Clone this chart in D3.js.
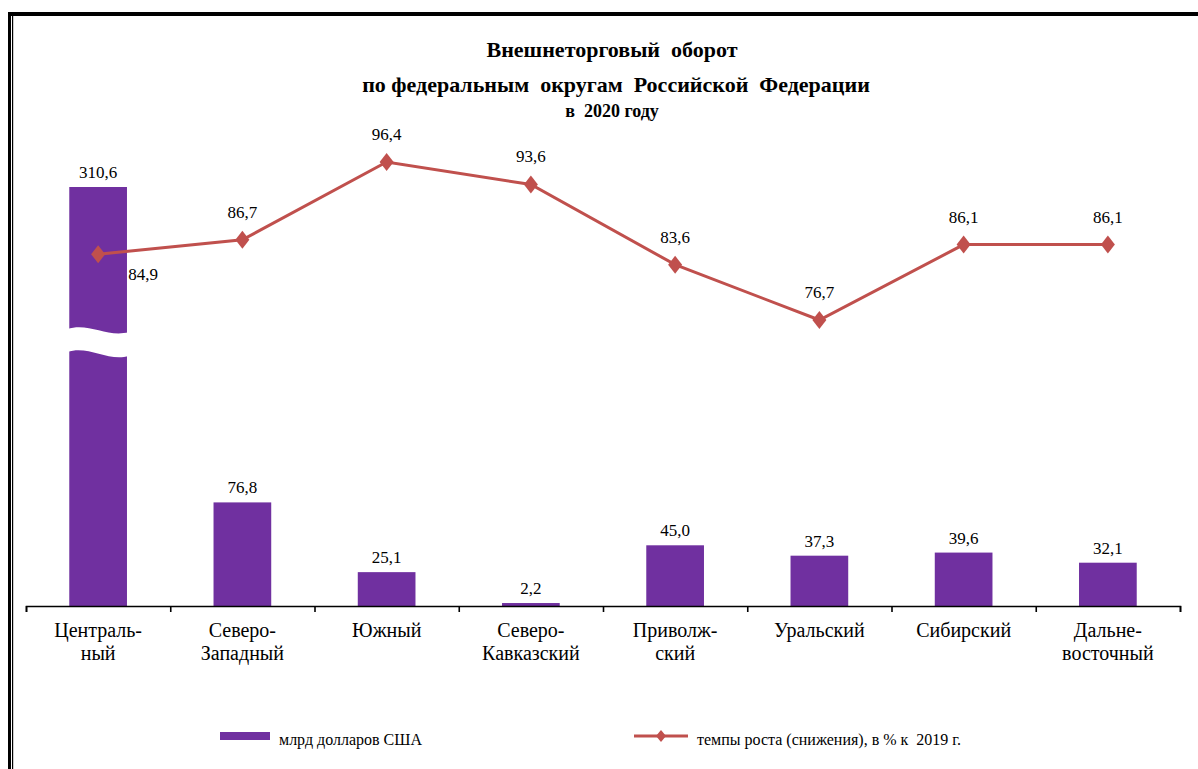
<!DOCTYPE html>
<html>
<head>
<meta charset="utf-8">
<script src="https://cdn.jsdelivr.net/npm/d3@7"></script>
</head>
<body style="margin:0">
<svg id="chart" width="1198" height="769"></svg>
<script>
var categories = [["Централь-", "ный"], ["Северо-", "Западный"], ["Южный"], ["Северо-", "Кавказский"],
                  ["Приволж-", "ский"], ["Уральский"], ["Сибирский"], ["Дальне-", "восточный"]];
var turnover = [310.6, 76.8, 25.1, 2.2, 45.0, 37.3, 39.6, 32.1];
var growth = [84.9, 86.7, 96.4, 93.6, 83.6, 76.7, 86.1, 86.1];
var titleLines = ["Внешнеторговый  оборот", "по федеральным  округам  Российской  Федерации", "в  2020 году"];
var legendBar = "млрд долларов США";
var legendLine = "темпы роста (снижения), в % к  2019 г.";

var w = 1198, h = 769;
var barColor = "#7030A0", lineColor = "#C0504D";
var axisY = 606;
var fmt = function(v){ return v.toFixed(1).replace(".", ","); };

var svg = d3.select("#chart");

// frame
svg.append("rect").attr("x", 8).attr("y", 12).attr("width", 3).attr("height", h).attr("fill", "#000");
svg.append("rect").attr("x", 12).attr("y", 14).attr("width", 1.2).attr("height", h).attr("fill", "#000");
svg.append("rect").attr("x", 8).attr("y", 12).attr("width", w).attr("height", 4).attr("fill", "#000");

var idx = d3.range(categories.length);
var xScale = d3.scaleBand()
  .domain(idx)
  .range([26, 1180])
  .paddingInner(0.6)
  .paddingOuter(0.3);

var yScale = d3.scaleLinear().domain([0, 310.6]).range([axisY, 187]);
var y2Scale = d3.scaleLinear().domain([76.7, 96.4]).range([320, 162]);

function addText(sel){
  return sel.append("text")
    .attr("xml:space", "preserve")
    .attr("fill", "#000");
}

// title
addText(svg).attr("x", 612).attr("y", 57).attr("text-anchor", "middle")
  .attr("font-size", "22px").attr("font-weight", "bold").text(titleLines[0]);
addText(svg).attr("x", 616).attr("y", 92).attr("text-anchor", "middle")
  .attr("font-size", "22px").attr("font-weight", "bold").text(titleLines[1]);
addText(svg).attr("x", 612).attr("y", 117).attr("text-anchor", "middle")
  .attr("font-size", "18px").attr("font-weight", "bold").text(titleLines[2]);

// bars
svg.selectAll("rect.bar")
  .data(turnover)
  .enter()
  .append("rect")
  .attr("class", "bar")
  .attr("x", function(d, i){ return xScale(i); })
  .attr("width", xScale.bandwidth())
  .attr("y", function(d){ return yScale(d); })
  .attr("height", function(d){ return axisY - yScale(d); })
  .attr("fill", barColor);

// break on the first bar
var bx = xScale(0) - 2, bw = xScale.bandwidth() + 4;
svg.append("path")
  .attr("d", "M" + bx + "," + 329 +
    " C" + (bx + bw * 0.35) + "," + 322 + " " + (bx + bw * 0.65) + "," + 338 + " " + (bx + bw) + "," + 332 +
    " L" + (bx + bw) + "," + 356 +
    " C" + (bx + bw * 0.65) + "," + 362 + " " + (bx + bw * 0.35) + "," + 345 + " " + bx + "," + 352 + " Z")
  .attr("fill", "#fff");

// bar labels
turnover.forEach(function(d, i){
  addText(svg)
    .attr("x", xScale(i) + xScale.bandwidth() / 2)
    .attr("y", yScale(d) - 9)
    .attr("text-anchor", "middle")
    .attr("font-size", "17px")
    .text(fmt(d));
});

// axis
var tickScale = d3.scaleLinear().domain([0, categories.length]).range([26, 1180]);
svg.append("g")
  .attr("transform", "translate(0," + axisY + ")")
  .call(d3.axisBottom(tickScale).tickValues(d3.range(categories.length + 1)).tickSize(6).tickSizeOuter(6).tickFormat(""))
  .call(function(g){
    g.selectAll("path, line").attr("stroke", "#000").attr("stroke-width", 1.6);
  });

// category labels
categories.forEach(function(lines, i){
  lines.forEach(function(s, j){
    addText(svg)
      .attr("x", xScale(i) + xScale.bandwidth() / 2)
      .attr("y", 637 + j * 23)
      .attr("text-anchor", "middle")
      .attr("font-size", "20px")
      .text(s);
  });
});

// growth line
var line = d3.line()
  .x(function(d, i){ return xScale(i) + xScale.bandwidth() / 2; })
  .y(function(d){ return y2Scale(d); });
svg.append("path")
  .datum(growth)
  .attr("d", line)
  .attr("fill", "none")
  .attr("stroke", lineColor)
  .attr("stroke-width", 3);

var diamond = "M0,-9 L7,0 L0,9 L-7,0 Z";
svg.selectAll("path.marker")
  .data(growth)
  .enter()
  .append("path")
  .attr("class", "marker")
  .attr("d", diamond)
  .attr("transform", function(d, i){
    return "translate(" + (xScale(i) + xScale.bandwidth() / 2) + "," + y2Scale(d) + ")";
  })
  .attr("fill", lineColor);

growth.forEach(function(d, i){
  addText(svg)
    .attr("x", xScale(i) + xScale.bandwidth() / 2 + (i === 0 ? 45 : 0))
    .attr("y", y2Scale(d) + (i === 0 ? 26 : -22))
    .attr("text-anchor", "middle")
    .attr("font-size", "17px")
    .text(fmt(d));
});

// legend
svg.append("rect").attr("x", 220).attr("y", 732).attr("width", 50).attr("height", 8).attr("fill", barColor);
addText(svg).attr("x", 279).attr("y", 745).attr("font-size", "16px").text(legendBar);
svg.append("line").attr("x1", 634).attr("x2", 688).attr("y1", 736).attr("y2", 736)
  .attr("stroke", lineColor).attr("stroke-width", 3);
svg.append("path").attr("d", "M0,-6 L5,0 L0,6 L-5,0 Z").attr("transform", "translate(661,736)").attr("fill", lineColor);
addText(svg).attr("x", 697).attr("y", 745).attr("font-size", "16px").text(legendLine);
</script>
</body>
</html>
